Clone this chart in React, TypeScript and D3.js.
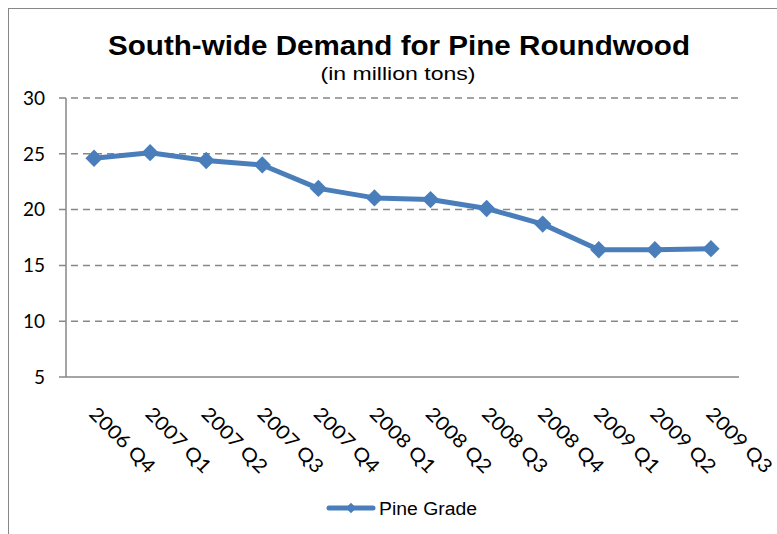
import React from 'react';
import * as d3 from 'd3';

const categories = [
  '2006 Q4', '2007 Q1', '2007 Q2', '2007 Q3', '2007 Q4', '2008 Q1',
  '2008 Q2', '2008 Q3', '2008 Q4', '2009 Q1', '2009 Q2', '2009 Q3',
];
const pineGrade = [24.6, 25.1, 24.4, 24.0, 21.9, 21.05, 20.9, 20.1, 18.7, 16.4, 16.4, 16.5];
const yTicks = [5, 10, 15, 20, 25, 30];

const W = 777;
const H = 534;
const BLUE = '#4A7EBB';
const GRID = '#878787';
const TICK_FONT = 'Lato, "Open Sans", sans-serif';

export default function App() {
  const x = d3.scaleBand<string>().domain(categories).range([66, 739]);
  const y = d3.scaleLinear().domain([5, 30]).range([377, 98]);
  const cx = (c: string) => (x(c) as number) + x.bandwidth() / 2;

  const line = d3.line<number>()
    .x((_, i) => cx(categories[i]))
    .y(d => y(d));

  const diamond = d3.symbol().type(d3.symbolSquare).size(150)() as string;
  const smallDiamond = d3.symbol().type(d3.symbolSquare).size(55)() as string;

  return (
    <div style={{ position: 'fixed', left: 0, top: 0 }}>
      <svg width={W} height={H} style={{ display: 'block', background: '#fff' }}>
        {/* chart frame */}
        <rect x={8.5} y={8.5} width={W + 20} height={H + 20} fill="#fff" stroke={GRID} strokeWidth={1} />

        <text x={399} y={55} textAnchor="middle" fontFamily='"Liberation Sans", Arial, sans-serif'
          fontWeight="bold" fontSize={27} textLength={582} lengthAdjust="spacingAndGlyphs" fill="#000">
          South-wide Demand for Pine Roundwood
        </text>
        <text x={398} y={80} textAnchor="middle" fontFamily='"Liberation Sans", Arial, sans-serif'
          fontSize={19} textLength={155} lengthAdjust="spacingAndGlyphs" fill="#000">
          (in million tons)
        </text>

        {/* gridlines + y ticks */}
        {yTicks.map(t => (
          <g key={t}>
            <line x1={59} x2={739} y1={y(t)} y2={y(t)} stroke={GRID} strokeWidth={1.5}
              strokeDasharray={t === 5 ? undefined : '7,5'} />
            <text x={45} y={y(t)} dy="0.36em" textAnchor="end" fontFamily={TICK_FONT} fontSize={19} fill="#000">
              {t}
            </text>
          </g>
        ))}
        <line x1={66} x2={66} y1={y(30)} y2={y(5)} stroke={GRID} strokeWidth={1.5} />

        {/* x labels */}
        {categories.map(c => (
          <text key={c} transform={`translate(${cx(c) - 6},${415}) rotate(45)`} fontFamily={TICK_FONT}
            fontSize={19} textLength={84} lengthAdjust="spacingAndGlyphs" fill="#000">
            {c}
          </text>
        ))}

        {/* series */}
        <path d={line(pineGrade) as string} fill="none" stroke={BLUE} strokeWidth={5} strokeLinejoin="round" />
        {pineGrade.map((v, i) => (
          <path key={i} d={diamond} transform={`translate(${cx(categories[i])},${y(v)}) rotate(45)`} fill={BLUE} />
        ))}

        {/* legend */}
        <line x1={329} x2={373} y1={508} y2={508} stroke={BLUE} strokeWidth={5} strokeLinecap="round" />
        <path d={smallDiamond} transform="translate(351,508) rotate(45)" fill={BLUE} />
        <text x={379} y={515} fontFamily='"Liberation Sans", Arial, sans-serif' fontSize={18}
          textLength={98} lengthAdjust="spacingAndGlyphs" fill="#000">
          Pine Grade
        </text>
      </svg>
    </div>
  );
}
